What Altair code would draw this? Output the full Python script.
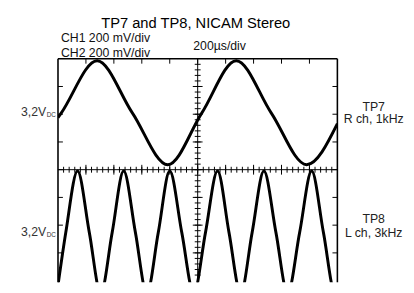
import altair as alt
import pandas as pd
import numpy as np

# ---- data (x in divisions 0..10, y in divisions, centre = 0)
top_x = [0.0, 0.12, 1.40, 2.66, 3.93, 5.15, 6.38, 7.63, 8.90, 10.0]
top_y = [1.88, 2.05, 3.93, 2.05, 0.18, 2.05, 3.93, 2.05, 0.18, 1.66]

bot_x = [0.0, 0.28, 0.70, 1.12, 1.53, 1.94, 2.35, 2.77, 3.18, 3.59, 4.00, 4.43,
         4.86, 5.28, 5.71, 6.12, 6.54, 6.95, 7.37, 7.80, 8.22, 8.65, 9.08, 9.50,
         9.92, 10.0]
bot_y = [-4.17, -2.26, -0.05, -2.26, -4.46, -2.26, -0.05, -2.26, -4.46, -2.26, -0.05, -2.26,
         -4.46, -2.26, -0.05, -2.26, -4.46, -2.26, -0.05, -2.26, -4.46, -2.26, -0.05, -2.26,
         -4.46, -4.36]

x_major = [1, 2, 3, 4, 5, 6, 7, 8, 9]
y_major = [-3, -2, -1, 0, 1, 2, 3]
x_minor = [round(v, 1) for v in np.arange(0.2, 10.0, 0.2)]
y_minor = [round(v, 1) for v in np.arange(-3.8, 4.0, 0.2)]

title_text = "TP7 and TP8, NICAM Stereo"
ch_texts = ["CH1 200 mV/div", "CH2 200 mV/div"]
time_text = "200\u00b5s/div"
level_text = "3,2V"
level_sub = "DC"
right_texts = ["TP7", "R ch, 1kHz", "TP8", "L ch, 3kHz"]

W, H = 285, 228
FONT = "Liberation Sans"
xs = alt.Scale(domain=[0, 10], nice=False, zero=False)
ys = alt.Scale(domain=[-4.06, 4], nice=False, zero=False)
CY = 113.2  # pixel row of the centre line (y = 0)

top_df = pd.DataFrame({"x": top_x, "y": top_y})
bot_df = pd.DataFrame({"x": bot_x, "y": bot_y})
xmaj_df = pd.DataFrame({"x": x_major})
ymaj_df = pd.DataFrame({"y": y_major})
xmin_df = pd.DataFrame({"x": x_minor})
ymin_df = pd.DataFrame({"y": y_minor})

X = lambda: alt.X("x:Q", scale=xs, axis=None)
Y = lambda: alt.Y("y:Q", scale=ys, axis=None)

layers = []
# frame: top, left, right (bottom is cut off in the picture)
layers.append(alt.Chart(pd.DataFrame({"y": [4]})).mark_rule(color="black", strokeWidth=1.6).encode(y=Y()))
layers.append(alt.Chart(pd.DataFrame({"x": [0, 10]})).mark_rule(color="black", strokeWidth=1.6).encode(x=X()))
# center cross lines
layers.append(alt.Chart(pd.DataFrame({"y": [0]})).mark_rule(color="black", strokeWidth=1).encode(y=Y()))
layers.append(alt.Chart(pd.DataFrame({"x": [5]})).mark_rule(color="black", strokeWidth=1).encode(x=X()))
# minor ticks on center lines
layers.append(alt.Chart(xmin_df).mark_rule(color="black", strokeWidth=1).encode(
    x=X(), y=alt.value(CY - 3), y2=alt.value(CY + 3)))
layers.append(alt.Chart(ymin_df).mark_rule(color="black", strokeWidth=1).encode(
    y=Y(), x=alt.value(W / 2 - 3), x2=alt.value(W / 2 + 3)))
# major ticks on center lines
layers.append(alt.Chart(xmaj_df).mark_rule(color="black", strokeWidth=1).encode(
    x=X(), y=alt.value(CY - 5), y2=alt.value(CY + 5)))
layers.append(alt.Chart(ymaj_df).mark_rule(color="black", strokeWidth=1).encode(
    y=Y(), x=alt.value(W / 2 - 5), x2=alt.value(W / 2 + 5)))
# edge ticks
layers.append(alt.Chart(xmaj_df).mark_rule(color="black", strokeWidth=1).encode(
    x=X(), y=alt.value(0), y2=alt.value(5)))
layers.append(alt.Chart(ymaj_df).mark_rule(color="black", strokeWidth=1).encode(
    y=Y(), x=alt.value(0), x2=alt.value(5)))
layers.append(alt.Chart(ymaj_df).mark_rule(color="black", strokeWidth=1).encode(
    y=Y(), x=alt.value(W - 5), x2=alt.value(W)))

# traces
layers.append(alt.Chart(top_df).mark_line(color="black", strokeWidth=3, interpolate="monotone", clip=True).encode(
    x=X(), y=Y()))
layers.append(alt.Chart(bot_df).mark_line(color="black", strokeWidth=3, interpolate="monotone", clip=True).encode(
    x=X(), y=Y()))


def txt(t, x, y, size=12.5, align="left", color="#111"):
    return alt.Chart(pd.DataFrame({"t": [t]})).mark_text(
        font=FONT, fontSize=size, align=align, baseline="alphabetic", color=color
    ).encode(text="t:N", x=alt.value(x), y=alt.value(y))


layers.append(txt(title_text, 140.5, -31, size=15, align="center", color="#000"))
layers.append(txt(ch_texts[0], 3, -17.5))
layers.append(txt(ch_texts[1], 3, -2))
layers.append(txt(time_text, 138, -9))
layers.append(txt(level_text, -12, 58, align="right", color="#333"))
layers.append(txt(level_sub, -11.5, 59, size=6.5, color="#333"))
layers.append(txt(level_text, -12, 180.5, align="right", color="#333"))
layers.append(txt(level_sub, -11.5, 181.5, size=6.5, color="#333"))
layers.append(txt(right_texts[0], 322, 53, align="center", color="#222"))
layers.append(txt(right_texts[1], 322, 66, align="center", color="#222"))
layers.append(txt(right_texts[2], 322, 168, align="center", color="#222"))
layers.append(txt(right_texts[3], 322, 182, align="center", color="#222"))

chart = alt.layer(*layers).properties(
    width=W, height=H,
    autosize=alt.AutoSizeParams(type="none"),
    padding={"left": 51, "top": 49, "right": 70, "bottom": 0},
).configure_view(strokeWidth=0)

chart.save("out.html", embed_options={"renderer": "svg", "actions": False})
